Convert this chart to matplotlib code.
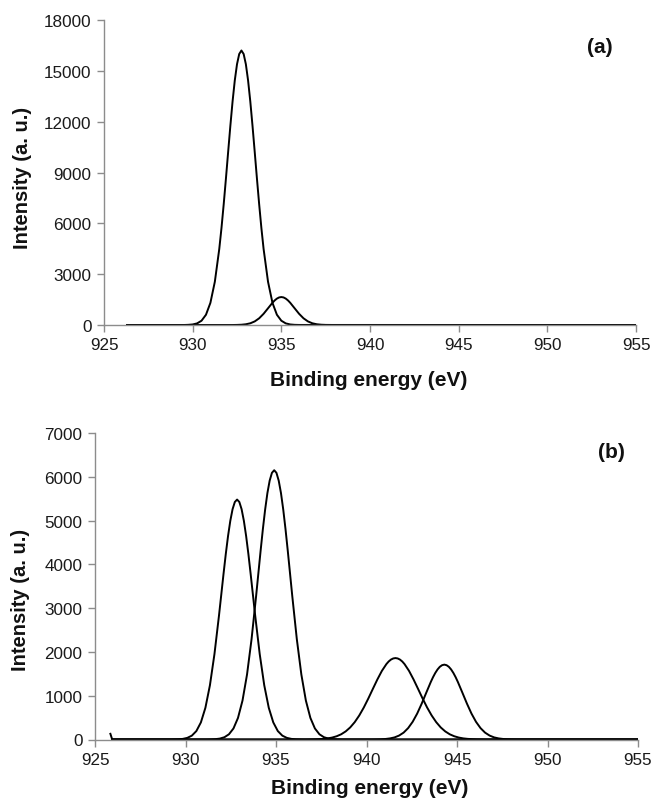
import matplotlib
matplotlib.use("Agg")
import matplotlib.pyplot as plt

plt.rcParams['font.family'] = ['Liberation Sans', 'DejaVu Sans']

# ---------------- data: panel (a) ----------------
a_peak1_x = [926.3, 929.5, 929.75, 930.0, 930.25, 930.5, 930.75, 931.0, 931.25, 931.5, 931.625,
             931.75, 931.875, 932.0, 932.125, 932.25, 932.375, 932.5, 932.625, 932.75, 932.875,
             933.0, 933.125, 933.25, 933.375, 933.5, 933.625, 933.75, 933.875, 934.0, 934.25,
             934.5, 934.75, 935.0, 935.25, 935.5, 935.75, 936.0, 955.0]
a_peak1_y = [0, 0, 10, 32, 95, 253, 605, 1308, 2550, 4486, 5725,
             7122, 8635, 10203, 11751, 13191, 14432, 15389, 15993, 16200, 15993,
             15389, 14432, 13191, 11751, 10203, 8635, 7122, 5725, 4486, 2550,
             1308, 605, 253, 95, 32, 10, 3, 0]

a_peak2_x = [926.3, 932.25, 932.5, 932.75, 933.0, 933.25, 933.5, 933.75, 934.0, 934.25, 934.5,
             934.625, 934.75, 934.875, 935.0, 935.125, 935.25, 935.375, 935.5, 935.75, 936.0,
             936.25, 936.5, 936.75, 937.0, 937.25, 937.5, 938.0, 955.0]
a_peak2_y = [0, 0, 5, 16, 43, 101, 212, 396, 662, 987, 1313,
             1451, 1558, 1627, 1650, 1627, 1558, 1451, 1313, 987, 662,
             396, 212, 101, 43, 16, 5, 0, 0]

# ---------------- data: panel (b) ----------------
b_start_x = [925.85, 925.95]
b_start_y = [130, 0]

b_peak1_x = [925.95, 929.1, 929.35, 929.6, 929.85, 930.1, 930.35, 930.6, 930.85, 931.1, 931.35,
             931.6, 931.85, 931.975, 932.1, 932.225, 932.35, 932.475, 932.6, 932.725, 932.85,
             932.975, 933.1, 933.225, 933.35, 933.475, 933.6, 933.725, 933.85, 934.1, 934.35,
             934.6, 934.85, 935.1, 935.35, 935.6, 935.85, 936.1, 936.35, 936.6, 955.0]
b_peak1_y = [0, 0, 2, 5, 14, 37, 88, 193, 390, 725, 1240,
             1952, 2830, 3304, 3779, 4234, 4646, 4994, 5259, 5424, 5480,
             5424, 5259, 4994, 4646, 4234, 3779, 3304, 2830, 1952, 1240,
             725, 390, 193, 88, 37, 14, 5, 2, 0, 0]

b_peak2_x = [925.95, 931.15, 931.4, 931.65, 931.9, 932.15, 932.4, 932.65, 932.9, 933.15, 933.4,
             933.65, 933.9, 934.025, 934.15, 934.275, 934.4, 934.525, 934.65, 934.775, 934.9,
             935.025, 935.15, 935.275, 935.4, 935.525, 935.65, 935.775, 935.9, 936.15, 936.4,
             936.65, 936.9, 937.15, 937.4, 937.65, 937.9, 938.15, 938.4, 938.65, 955.0]
b_peak2_y = [0, 0, 3, 8, 21, 52, 119, 252, 493, 890, 1486,
             2293, 3272, 3793, 4312, 4806, 5252, 5628, 5912, 6090, 6150,
             6090, 5912, 5628, 5252, 4806, 4312, 3793, 3272, 2293, 1486,
             890, 493, 252, 119, 52, 21, 8, 3, 0, 0]

b_peak3_x = [925.95, 936.6, 936.85, 937.1, 937.35, 937.6, 937.85, 938.1, 938.35, 938.6, 938.85,
             939.1, 939.35, 939.6, 939.85, 940.1, 940.35, 940.6, 940.85, 941.1, 941.225,
             941.35, 941.475, 941.6, 941.725, 941.85, 941.975, 942.1, 942.35, 942.6, 942.85,
             943.1, 943.35, 943.6, 943.85, 944.1, 944.35, 944.6, 944.85, 945.1, 945.35,
             945.6, 945.85, 946.1, 946.35, 946.6, 955.0]
b_peak3_y = [0, 0, 2, 4, 8, 14, 25, 44, 74, 119, 185,
             276, 397, 549, 730, 936, 1155, 1371, 1567, 1723, 1782,
             1825, 1851, 1860, 1851, 1825, 1782, 1723, 1567, 1371, 1155,
             936, 730, 549, 397, 276, 185, 119, 74, 44, 25,
             14, 8, 4, 2, 0, 0]

b_peak4_x = [925.95, 940.3, 940.55, 940.8, 941.05, 941.3, 941.55, 941.8, 942.05, 942.3, 942.55,
             942.8, 943.05, 943.3, 943.55, 943.675, 943.8, 943.925, 944.05, 944.175, 944.3,
             944.425, 944.55, 944.675, 944.8, 944.925, 945.05, 945.3, 945.55, 945.8, 946.05,
             946.3, 946.55, 946.8, 947.05, 947.3, 947.55, 947.8, 948.05, 948.3, 955.0]
b_peak4_y = [0, 0, 2, 5, 12, 25, 48, 90, 157, 260, 404,
             592, 819, 1067, 1312, 1423, 1520, 1600, 1660, 1697, 1710,
             1697, 1660, 1600, 1520, 1423, 1312, 1067, 819, 592, 404,
             260, 157, 90, 48, 25, 12, 5, 2, 0, 0]

x_ticks = [925, 930, 935, 940, 945, 950, 955]
a_yticks = [0, 3000, 6000, 9000, 12000, 15000, 18000]
b_yticks = [0, 1000, 2000, 3000, 4000, 5000, 6000, 7000]

x_label = "Binding energy (eV)"
y_label = "Intensity (a. u.)"

# ---------------- figure ----------------
W, H = 652, 803
fig = plt.figure(figsize=(W / 100, H / 100), dpi=100)

def frac_box(l, r, t, b):
    return [l / W, 1 - b / H, (r - l) / W, (b - t) / H]

ax_a = fig.add_axes(frac_box(104, 636, 21, 326))
ax_b = fig.add_axes(frac_box(95, 638, 434, 740.5))

axis_col = '#8c8c8c'
line_kw = dict(color='black', lw=1.4, solid_joinstyle='round')

ax_a.plot(a_peak1_x, a_peak1_y, **line_kw)
ax_a.plot(a_peak2_x, a_peak2_y, **line_kw)

ax_b.plot(b_start_x, b_start_y, **line_kw)
ax_b.plot(b_peak1_x, b_peak1_y, **line_kw)
ax_b.plot(b_peak2_x, b_peak2_y, **line_kw)
ax_b.plot(b_peak3_x, b_peak3_y, **line_kw)
ax_b.plot(b_peak4_x, b_peak4_y, **line_kw)

def style(ax, yticks, ylim, xlab_pos, ylab_pos, tag, tag_pos):
    ax.set_xlim(925, 955)
    ax.set_ylim(*ylim)
    ax.set_xticks(x_ticks)
    ax.set_xticklabels([str(t) for t in x_ticks])
    ax.set_yticks(yticks)
    ax.set_yticklabels([str(t) for t in yticks])
    for s in ['top', 'right']:
        ax.spines[s].set_visible(False)
    for s in ['left', 'bottom']:
        ax.spines[s].set_color(axis_col)
        ax.spines[s].set_linewidth(1.0)
    ax.tick_params(axis='both', direction='out', length=5, width=1.0,
                   color=axis_col, labelsize=12.3, labelcolor='#1a1a1a', pad=4)
    ax.set_xlabel(x_label, fontsize=15, fontweight='bold', color='#111111')
    ax.xaxis.label.set_va('center')
    ax.xaxis.set_label_coords(*xlab_pos)
    ax.set_ylabel(y_label, fontsize=14.5, fontweight='bold', color='#111111')
    ax.yaxis.label.set_va('center')
    ax.yaxis.set_label_coords(*ylab_pos)
    ax.text(tag_pos[0], tag_pos[1], tag, transform=ax.transAxes, fontsize=15,
            fontweight='bold', ha='center', va='center', color='#111111')

style(ax_a, a_yticks, (0, 18000), (0.498, -0.180), (-0.153, 0.485), '(a)', (0.932, 0.912))
style(ax_b, b_yticks, (0, 7000), (0.505, -0.158), (-0.137, 0.458), '(b)', (0.952, 0.939))

fig.savefig('out.png', dpi=100)
